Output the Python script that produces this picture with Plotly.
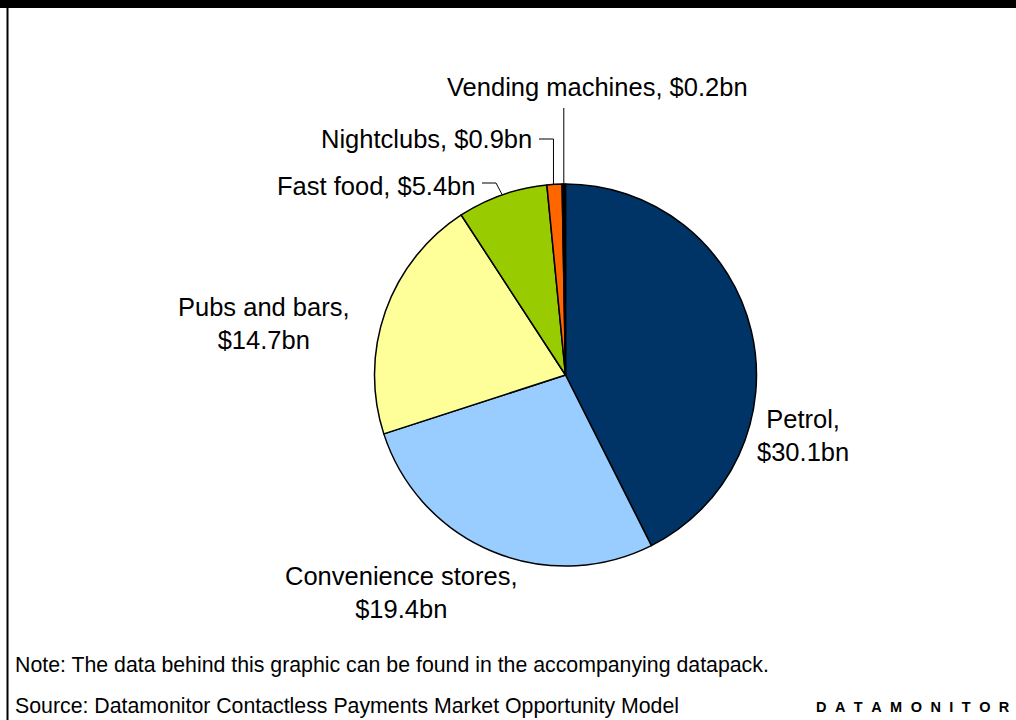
import math
import plotly.graph_objects as go

# Market value by channel, US$ billions
categories = ["Petrol", "Convenience stores", "Pubs and bars", "Fast food", "Nightclubs", "Vending machines"]
values = [30.1, 19.4, 14.7, 5.4, 0.9, 0.2]
colors = ["#003366", "#99CCFF", "#FFFF99", "#99CC00", "#FF6600", "#000000"]
label_breaks = [True, True, True, False, False, False]

note_text = "Note: The data behind this graphic can be found in the accompanying datapack."
source_text = "Source: Datamonitor Contactless Payments Market Opportunity Model"
brand_text = "DATAMONITOR"

W, H = 1016, 720
FONT = "Liberation Sans, Arial, sans-serif"

# pie geometry in pixels
CX, CY, R = 565.5, 375.0, 191.0


def px(x):
    return x / W


def py(y):
    return 1 - y / H


fig = go.Figure()
fig.add_trace(go.Pie(
    labels=categories,
    values=values,
    sort=False,
    direction="clockwise",
    rotation=0,
    marker=dict(colors=colors, line=dict(color="#000000", width=1.5)),
    textinfo="none",
    hoverinfo="label+value",
    showlegend=False,
    domain=dict(x=[px(CX - R), px(CX + R)], y=[py(CY + R), py(CY - R)]),
))

# mid-angle edge point of each slice (clockwise from 12 o'clock)
total = sum(values)
edge = []
cum = 0.0
for v in values:
    mid = (cum + v / 2) / total * 2 * math.pi
    edge.append((CX + R * math.sin(mid), CY - R * math.cos(mid)))
    cum += v

texts = []
for c, v, br in zip(categories, values, label_breaks):
    sep = ",<br>" if br else ", "
    texts.append(f"{c}{sep}${v}bn")

# label placement: (x, y, xanchor)
label_pos = [
    (803, 436, "center"),
    (401, 592, "center"),
    (264, 324, "center"),
    (477, 186, "right"),
    (534, 139, "right"),
    (597, 87, "center"),
]

annotations = []
for t, (lx, ly, xa) in zip(texts, label_pos):
    annotations.append(dict(
        x=px(lx), y=py(ly), xref="paper", yref="paper", text=t, showarrow=False,
        xanchor=xa, yanchor="middle", align="center",
        font=dict(family=FONT, size=25.5, color="#000000"),
    ))

shapes = []
# leader lines for the small slices
fx, fy = edge[3]
shapes.append(dict(type="path", xref="paper", yref="paper",
                   path=f"M {px(482)} {py(183)} L {px(496)} {py(183)} L {px(fx)} {py(fy)}",
                   line=dict(color="#000000", width=1)))
nx, ny = edge[4]
shapes.append(dict(type="path", xref="paper", yref="paper",
                   path=f"M {px(539)} {py(139)} L {px(nx - 1)} {py(139)} L {px(nx - 1)} {py(ny)}",
                   line=dict(color="#000000", width=1)))
vx, vy = edge[5]
shapes.append(dict(type="line", xref="paper", yref="paper",
                   x0=px(vx), y0=py(108), x1=px(vx), y1=py(vy),
                   line=dict(color="#000000", width=1)))

# header bar and left frame line
shapes.append(dict(type="rect", xref="paper", yref="paper", x0=0, x1=1, y0=py(8), y1=1,
                   fillcolor="#000000", line=dict(width=0), layer="above"))
shapes.append(dict(type="line", xref="paper", yref="paper", x0=px(7.5), x1=px(7.5), y0=0, y1=py(8),
                   line=dict(color="#000000", width=2)))

annotations.append(dict(x=px(13), y=py(665), xref="paper", yref="paper", text=note_text, showarrow=False,
                        xanchor="left", yanchor="middle", font=dict(family=FONT, size=21.3, color="#000000")))
annotations.append(dict(x=px(13), y=py(706), xref="paper", yref="paper", text=source_text, showarrow=False,
                        xanchor="left", yanchor="middle", font=dict(family=FONT, size=21.3, color="#000000")))
annotations.append(dict(x=px(1012), y=py(707), xref="paper", yref="paper",
                        text="\u2002\u200a".join(brand_text), showarrow=False,
                        xanchor="right", yanchor="middle",
                        font=dict(family=FONT, size=14.5, color="#000000", weight="bold")))

fig.update_layout(
    width=W, height=H,
    margin=dict(l=0, r=0, t=0, b=0),
    paper_bgcolor="#FFFFFF",
    plot_bgcolor="#FFFFFF",
    annotations=annotations,
    shapes=shapes,
)

fig.write_html("out.html")
